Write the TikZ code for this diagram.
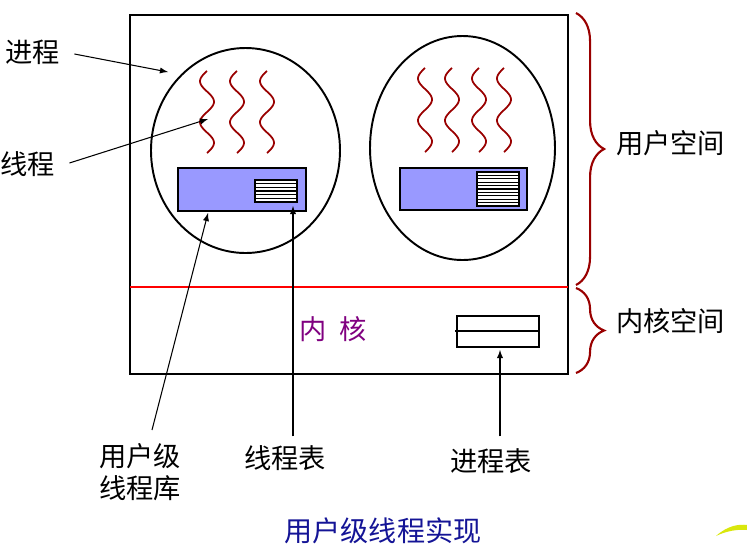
\documentclass[tikz,border=0pt]{standalone}
\usepackage{fontspec}
\newfontfamily\cjk{Noto Sans CJK SC}
\usetikzlibrary{decorations.pathreplacing}
\definecolor{threadred}{RGB}{153,0,0}
\definecolor{tblue}{RGB}{153,153,255}
\definecolor{kpurple}{RGB}{128,0,128}
\definecolor{titleblue}{RGB}{20,20,150}

\begin{document}
\begin{tikzpicture}[x=0.02cm, y=-0.02cm, >=latex,
  every node/.style={font=\cjk\fontsize{15.5}{18}\selectfont},
  frame/.style={draw, line width=1.1pt},
  libbox/.style={draw, line width=1.1pt, fill=tblue},
  thread/.style={draw=threadred, line width=1pt},
  pointer/.style={->, line width=0.6pt},
  spacebrace/.style={draw=threadred, line width=1.2pt, decorate,
    decoration={brace, amplitude=16pt}}]
\useasboundingbox (0,0) rectangle (747,559);

% address space and kernel boundary
\draw[frame] (130,15) rectangle (568,374);
\draw[red, line width=0.9pt] (130,287) -- (568,287);

% two processes
\draw[frame] (245.5,150.5) ellipse [x radius=94.5, y radius=102.5];
\draw[frame] (462.5,148) ellipse [x radius=92.5, y radius=112];

% threads
\foreach \wx in {210,240,270}
  \draw[thread] plot[variable=\ang, domain=0:720, samples=60, smooth] ({\wx-3+7*sin(\ang)}, {153-0.1139*\ang});
\foreach \wx in {428,455,482,507}
  \draw[thread] plot[variable=\ang, domain=0:720, samples=60, smooth] ({\wx-3+7*sin(\ang)}, {152-0.1167*\ang});

% user level thread libraries with thread tables
\draw[libbox] (178,168) rectangle (306,211);
\draw[frame, fill=white] (255,180) rectangle (297,202);
\foreach \y in {183.7,187.3,191,194.7,198.3}
  \draw[line width=0.6pt] (255,\y) -- (297,\y);
\draw[libbox] (400,168) rectangle (527,210);
\draw[frame, fill=white] (477,172) rectangle (519,206);
\foreach \y in {175.4,178.8,182.2,185.6,189,192.4,195.8,199.2,202.6}
  \draw[line width=0.6pt] (477,\y) -- (519,\y);

% kernel
\node[text=kpurple] (kern) at (333,329) {内\hspace{0.45em}核};
\draw[line width=1pt] (457,316) rectangle (539,347);
\draw[line width=0.6pt] (455,331) -- (539,331);

% braces
\draw[spacebrace] (576,13) -- (576,285) coordinate[pos=0.5] (ubr);
\draw[spacebrace] (576,288) -- (576,373) coordinate[pos=0.5] (kbr);
\node[anchor=west] (user) at (610,143) {用户空间};
\node[anchor=west] (ksp) at (610,321) {内核空间};

% labels
\node (proc) at (33,52) {进程};
\node (thr) at (28,164) {线程};
\node[align=center] (lib) at (140,472) {用户级\\线程库};
\node (ttab) at (285,458) {线程表};
\node (ptab) at (491,461) {进程表};
\node[text=titleblue, font=\cjk\fontsize{16}{19}\selectfont] (title) at (383,531) {用户级线程实现};

\coordinate (procend) at (168,72);
\coordinate (thrend) at (208,119);
\coordinate (libend) at (208,213);
\coordinate (ttabend) at (293,206);
\coordinate (ptabend) at (500,350);
\draw[pointer] (proc.east) ++(8,2) -- (procend);
\draw[pointer] (thr.east) ++(8,-1) -- (thrend);
\draw[pointer] (152,430) -- (libend);
\draw[pointer] (ttab.north) ++(8,-3) -- (ttabend);
\draw[pointer] (ptab.north) ++(9,-6) -- (ptabend);

% corner ornament
\fill[yellow!85!green] (716,536) .. controls (728,525) and (740,524) .. (747,525)
  -- (747,530) .. controls (738,529) and (726,531) .. (716,536) -- cycle;
\end{tikzpicture}
\end{document}
